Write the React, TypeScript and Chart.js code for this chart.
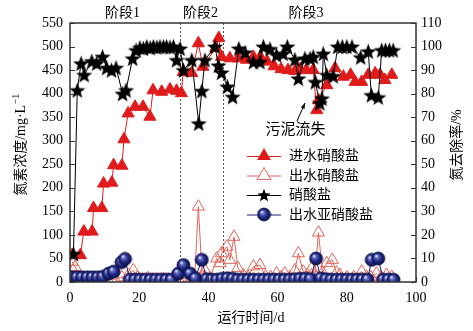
import React, { useEffect, useRef } from 'react';
import { Chart, registerables } from 'chart.js';

Chart.register(...registerables);

// ---------- data ----------
const xTickValues = [0, 20, 40, 60, 80, 100];
const leftTickStep = 50;
const rightTickStep = 10;
const stageBounds = [31.8, 44.1];
const stageLabels = ['阶段1', '阶段2', '阶段3'];
const seriesNames = ['进水硝酸盐', '出水硝酸盐', '硝酸盐', '出水亚硝酸盐'];

// 进水硝酸盐 (mg/L, left axis)
const inDays = [0.6, 3, 4, 6.4, 6.8, 9.2, 9.7, 12.1, 12.6, 15, 15.6, 16.8, 18.8, 21.1, 23.1, 24, 26.5, 28.9, 30.8, 32.2, 32.7, 35.2, 37.1, 38.4, 42.1, 43, 43.8, 46.2, 48.6, 51, 53, 55, 57, 59, 61, 63, 65, 66.5, 68.3, 70.3, 71.3, 71.8, 74.2, 76.6, 79, 81.1, 82.4, 84.3, 86.2, 88.2, 89.6, 91, 93];
const inValues = [57, 57, 107, 107, 157, 157, 209, 211, 248, 247, 303, 358, 372, 372, 351, 407, 404, 409, 406, 401, 446, 444, 507, 457, 497, 518, 478, 475, 475, 472, 478, 478, 468, 458, 452, 450, 448, 452, 450, 450, 365, 386, 418, 454, 436, 440, 425, 425, 440, 443, 440, 429, 440];

// 出水硝酸盐 (mg/L, left axis)
const efDays = [0.6, 1.5, 3, 5, 7, 9, 11, 13, 15, 16.9, 18.3, 19.5, 21, 22.5, 24, 25.5, 27, 28.5, 30, 31.5, 33, 35, 36, 37.1, 38.2, 39, 40.5, 42.4, 43.4, 43.8, 45.3, 46.2, 47.4, 48.5, 50.1, 51.5, 53, 54.9, 56.5, 58, 59.7, 61, 62.1, 63.5, 65, 66, 67.4, 68.6, 69.8, 70.8, 71.8, 73, 74.2, 75.8, 77, 78, 80, 82, 84.3, 85.7, 87, 88.6, 90, 91.5, 93];
const efValues = [43, 32, 10, 8, 6, 8, 5, 6, 10, 15, 25, 10, 5, 8, 5, 5, 6, 5, 5, 5, 8, 10, 5, 160, 12, 25, 8, 50, 40, 61, 75, 47, 96, 30, 15, 10, 33, 36, 12, 10, 18, 10, 18, 10, 25, 61, 22, 15, 29, 15, 105, 20, 40, 47, 20, 15, 10, 10, 22, 11, 10, 18, 10, 15, 11];

// 硝酸盐去除率 (%, right axis)
const stDays = [1, 2.1, 3.2, 4.1, 6.3, 7.7, 9.4, 10.6, 12, 13.3, 15.2, 16.2, 18.1, 19.1, 20.2, 21.2, 22.2, 23.2, 24.1, 25.1, 26, 27, 27.9, 28.9, 29.9, 30.8, 31.8, 32.8, 35.2, 37.2, 38.1, 39, 41.9, 42.9, 43.8, 45.5, 47, 48.8, 50.6, 53, 54.9, 55.9, 57.8, 59.7, 61.6, 62.8, 65, 66, 67.9, 69.4, 70.3, 70.9, 72.2, 72.8, 73.2, 74.2, 76.1, 77.4, 78.7, 80, 81.5, 84, 86.2, 87.1, 89.1, 90.1, 91.2, 92.3, 93.4];
const stValues = [12, 81.5, 92.9, 88, 93.8, 92.9, 95.7, 91, 90, 91, 80, 81.5, 95, 98.5, 99.5, 99.2, 100, 99.5, 100, 99.8, 100, 100, 100, 99.8, 100, 94.3, 99.2, 90, 94.3, 67.4, 81.2, 94.3, 100, 92, 89, 83, 78.7, 99.2, 97.5, 93.5, 93.5, 100, 99, 96.4, 97, 100, 94.5, 86.5, 95, 95, 95.7, 85, 76, 78, 97, 88, 87.5, 100, 100, 100, 100, 95.5, 98, 79.4, 78.5, 98.5, 98.5, 98.5, 98.5];

// 出水亚硝酸盐 (mg/L, left axis)
const niDays = [0.5, 2, 3.5, 5, 6.5, 8, 9.5, 11.2, 12.6, 14.9, 15.9, 17.3, 18.8, 20.3, 21.8, 23.3, 24.8, 26.3, 27.8, 29.3, 31.3, 32.8, 34.7, 36.2, 38.1, 39.5, 41, 42.5, 44, 45.5, 47, 48.5, 50, 51.5, 53, 54.5, 56, 57.5, 59, 60.5, 62, 63.5, 65, 66.5, 68, 69.5, 71.1, 72.5, 74, 75.5, 77, 78.5, 80, 81.5, 83, 84.5, 86, 87.2, 89.1, 90.5, 92, 93.5];
const niValues = [10, 10, 10, 10, 10, 10, 11, 18, 22, 42, 49, 5, 5, 5, 5, 5, 5, 5, 5, 5, 18, 36, 18, 8, 47, 6, 5, 5, 7, 8, 7, 5, 5, 5, 5, 5, 5, 5, 5, 5, 5, 5, 6, 7, 7, 6, 50, 8, 6, 5, 5, 5, 5, 5, 5, 5, 5, 47, 50, 5, 5, 5];

// ---------- styles ----------
const FONT = "'Liberation Serif', 'Noto Sans CJK SC', 'DejaVu Serif', serif";
const RED = '#e01b1b';
const RED_OPEN = '#e0655c';
const NAVY = '#1b2070';

function pts(xs: number[], ys: number[]) {
  const n = Math.min(xs.length, ys.length);
  const out: { x: number; y: number }[] = [];
  for (let i = 0; i < n; i++) out.push({ x: xs[i], y: ys[i] });
  return out;
}

function makeStar(R: number) {
  const size = Math.ceil(R * 2 + 2);
  const c = document.createElement('canvas');
  c.width = size;
  c.height = size;
  const ctx = c.getContext('2d')!;
  const cx = size / 2;
  const cy = size / 2 + R * 0.1;
  const r = R * 0.42;
  ctx.beginPath();
  for (let i = 0; i < 10; i++) {
    const rad = i % 2 === 0 ? R : r;
    const a = -Math.PI / 2 + (i * Math.PI) / 5;
    const px = cx + rad * Math.cos(a);
    const py = cy + rad * Math.sin(a);
    if (i === 0) ctx.moveTo(px, py);
    else ctx.lineTo(px, py);
  }
  ctx.closePath();
  ctx.fillStyle = '#000';
  ctx.fill();
  return c;
}

function makeBall(r: number) {
  const size = Math.ceil(r * 2 + 2);
  const c = document.createElement('canvas');
  c.width = size;
  c.height = size;
  const ctx = c.getContext('2d')!;
  const cx = size / 2;
  const cy = size / 2;
  const g = ctx.createRadialGradient(cx - r * 0.35, cy - r * 0.4, r * 0.05, cx, cy, r);
  g.addColorStop(0, '#f4f6ff');
  g.addColorStop(0.22, '#6b73c8');
  g.addColorStop(0.6, '#222a86');
  g.addColorStop(1, '#0b0f45');
  ctx.beginPath();
  ctx.arc(cx, cy, r, 0, Math.PI * 2);
  ctx.fillStyle = g;
  ctx.fill();
  ctx.lineWidth = 0.8;
  ctx.strokeStyle = '#0b0f45';
  ctx.stroke();
  return c;
}

function triPath(ctx: CanvasRenderingContext2D, x: number, y: number, r: number) {
  let rad = 0;
  ctx.beginPath();
  ctx.moveTo(x + Math.sin(rad) * r, y - Math.cos(rad) * r);
  rad += (2 * Math.PI) / 3;
  ctx.lineTo(x + Math.sin(rad) * r, y - Math.cos(rad) * r);
  rad += (2 * Math.PI) / 3;
  ctx.lineTo(x + Math.sin(rad) * r, y - Math.cos(rad) * r);
  ctx.closePath();
}

export default function App() {
  const ref = useRef<HTMLCanvasElement>(null);

  useEffect(() => {
    document.body.style.margin = '0';
    const star = makeStar(8.5);
    const ball = makeBall(6.5);
    const legendStar = makeStar(7);
    const legendBall = makeBall(6.5);

    const decor = {
      id: 'decor',
      beforeDatasetsDraw(chart: any) {
        const { ctx, chartArea, scales } = chart;
        ctx.save();
        ctx.strokeStyle = '#555';
        ctx.lineWidth = 1;
        ctx.setLineDash([2, 2]);
        stageBounds.forEach((d) => {
          const px = Math.round(scales.x.getPixelForValue(d)) + 0.5;
          ctx.beginPath();
          ctx.moveTo(px, chartArea.top);
          ctx.lineTo(px, chartArea.bottom);
          ctx.stroke();
        });
        ctx.restore();
      },
      afterDraw(chart: any) {
        const { ctx, chartArea, scales } = chart;
        const { left, right, top, bottom } = chartArea;
        ctx.save();
        // frame
        ctx.strokeStyle = '#333';
        ctx.lineWidth = 1.5;
        ctx.strokeRect(left, top, right - left, bottom - top);
        // inward ticks
        ctx.lineWidth = 1;
        ctx.beginPath();
        for (let v = 0; v <= 550; v += leftTickStep) {
          const y = Math.round(scales.y.getPixelForValue(v)) + 0.5;
          ctx.moveTo(left, y);
          ctx.lineTo(left + 5, y);
        }
        for (let v = 0; v <= 110; v += rightTickStep) {
          const y = Math.round(scales.y2.getPixelForValue(v)) + 0.5;
          ctx.moveTo(right - 5, y);
          ctx.lineTo(right, y);
        }
        xTickValues.forEach((v) => {
          const x = Math.round(scales.x.getPixelForValue(v)) + 0.5;
          ctx.moveTo(x, bottom);
          ctx.lineTo(x, bottom - 5);
        });
        ctx.stroke();

        ctx.fillStyle = '#000';
        ctx.font = `14px ${FONT}`;
        ctx.textBaseline = 'middle';
        ctx.textAlign = 'center';
        // stage labels
        const stageX = [15.2, 37.7, 68.2];
        stageLabels.forEach((t, i) => {
          ctx.fillText(t, scales.x.getPixelForValue(stageX[i]), 13);
        });
        // x title
        ctx.fillText('运行时间/d', 251, 318);

        // left title (rotated) with superscript
        ctx.save();
        ctx.translate(21, 145);
        ctx.rotate(-Math.PI / 2);
        const main = '氮素浓度/mg·L';
        ctx.font = `14px ${FONT}`;
        const w1 = ctx.measureText(main).width;
        ctx.font = `10px ${FONT}`;
        const w2 = ctx.measureText('−1').width;
        const start = -(w1 + w2) / 2;
        ctx.textAlign = 'left';
        ctx.font = `14px ${FONT}`;
        ctx.fillText(main, start, 0);
        ctx.font = `10px ${FONT}`;
        ctx.fillText('−1', start + w1 + 0.5, -5);
        ctx.restore();

        // right title
        ctx.save();
        ctx.translate(457, 145);
        ctx.rotate(-Math.PI / 2);
        ctx.font = `14px ${FONT}`;
        ctx.textAlign = 'center';
        ctx.fillText('氮去除率/%', 0, 0);
        ctx.restore();

        // annotation
        ctx.font = `15px ${FONT}`;
        ctx.textAlign = 'center';
        ctx.fillText('污泥流失', 295.5, 130);
        ctx.strokeStyle = '#000';
        ctx.lineWidth = 1;
        ctx.beginPath();
        ctx.moveTo(297, 121);
        ctx.lineTo(305, 103);
        ctx.stroke();
        const ang = Math.atan2(103 - 121, 305 - 297);
        ctx.beginPath();
        ctx.moveTo(305, 103);
        ctx.lineTo(305 - 6 * Math.cos(ang - 0.35), 103 - 6 * Math.sin(ang - 0.35));
        ctx.lineTo(305 - 6 * Math.cos(ang + 0.35), 103 - 6 * Math.sin(ang + 0.35));
        ctx.closePath();
        ctx.fillStyle = '#000';
        ctx.fill();

        // legend
        const rows = [156, 175.5, 195, 214.5];
        const lx0 = 247;
        const lx1 = 281;
        const mx = 264;
        const colors = [RED, RED_OPEN, '#000', NAVY];
        rows.forEach((y, i) => {
          ctx.strokeStyle = colors[i];
          ctx.lineWidth = 1;
          ctx.beginPath();
          ctx.moveTo(lx0, y + 0.5);
          ctx.lineTo(lx1, y + 0.5);
          ctx.stroke();
          if (i === 0) {
            triPath(ctx, mx, y, 8);
            ctx.fillStyle = RED;
            ctx.fill();
          } else if (i === 1) {
            triPath(ctx, mx, y, 8);
            ctx.fillStyle = '#fff';
            ctx.fill();
            ctx.strokeStyle = RED_OPEN;
            ctx.stroke();
          } else if (i === 2) {
            ctx.drawImage(legendStar, mx - legendStar.width / 2, y - legendStar.height / 2);
          } else {
            ctx.drawImage(legendBall, mx - legendBall.width / 2, y - legendBall.height / 2);
          }
          ctx.fillStyle = '#000';
          ctx.font = `14px ${FONT}`;
          ctx.textAlign = 'left';
          ctx.textBaseline = 'middle';
          ctx.fillText(seriesNames[i], 289, y + 0.5);
        });
        ctx.restore();
      },
    };

    const tickFont = { family: FONT, size: 14 };
    const chart = new Chart(ref.current!, {
      type: 'line',
      data: {
        datasets: [
          {
            label: seriesNames[0],
            data: pts(inDays, inValues),
            yAxisID: 'y',
            borderColor: RED,
            backgroundColor: RED,
            pointBackgroundColor: RED,
            pointBorderColor: RED,
            pointStyle: 'triangle',
            pointRadius: 7,
            borderWidth: 1,
            pointBorderWidth: 1,
            order: 2,
          },
          {
            label: seriesNames[1],
            data: pts(efDays, efValues),
            yAxisID: 'y',
            borderColor: RED_OPEN,
            backgroundColor: 'rgba(255,255,255,0)',
            pointBackgroundColor: 'rgba(255,255,255,0)',
            pointBorderColor: RED_OPEN,
            pointStyle: 'triangle',
            pointRadius: 7,
            borderWidth: 1,
            pointBorderWidth: 1,
            order: 4,
          },
          {
            label: seriesNames[2],
            data: pts(stDays, stValues),
            yAxisID: 'y2',
            borderColor: '#000',
            backgroundColor: '#000',
            pointStyle: star as any,
            pointRadius: 8,
            borderWidth: 1,
            order: 1,
          },
          {
            label: seriesNames[3],
            data: pts(niDays, niValues),
            yAxisID: 'y',
            borderColor: NAVY,
            backgroundColor: NAVY,
            pointStyle: ball as any,
            pointRadius: 6,
            borderWidth: 1,
            order: 3,
          },
        ],
      },
      options: {
        responsive: false,
        animation: false,
        events: [],
        layout: { padding: { top: 23, left: 0, right: 0, bottom: 0 } },
        plugins: { legend: { display: false }, tooltip: { enabled: false } },
        elements: { line: { tension: 0 } },
        scales: {
          x: {
            type: 'linear',
            position: 'bottom',
            min: 0,
            max: 100,
            afterBuildTicks: (s: any) => {
              s.ticks = xTickValues.map((v) => ({ value: v }));
            },
            ticks: { font: tickFont, color: '#000', padding: 8, maxRotation: 0, autoSkip: false },
            grid: { display: false, drawTicks: false },
            border: { display: false },
            afterFit: (s: any) => {
              s.height = 49;
            },
          },
          y: {
            type: 'linear',
            position: 'left',
            min: 0,
            max: 550,
            ticks: { stepSize: leftTickStep, font: tickFont, color: '#000', padding: 7 },
            grid: { display: false, drawTicks: false },
            border: { display: false },
            afterFit: (s: any) => {
              s.width = 70;
            },
          },
          y2: {
            type: 'linear',
            position: 'right',
            min: 0,
            max: 110,
            ticks: { stepSize: rightTickStep, font: tickFont, color: '#000', padding: 5 },
            grid: { display: false, drawTicks: false },
            border: { display: false },
            afterFit: (s: any) => {
              s.width = 57;
            },
          },
        },
      },
      plugins: [decor],
    } as any);
    return () => chart.destroy();
  }, []);

  return (
    <div style={{ width: 473, height: 331 }}>
      <canvas ref={ref} width={473} height={331} style={{ display: 'block' }} />
    </div>
  );
}
